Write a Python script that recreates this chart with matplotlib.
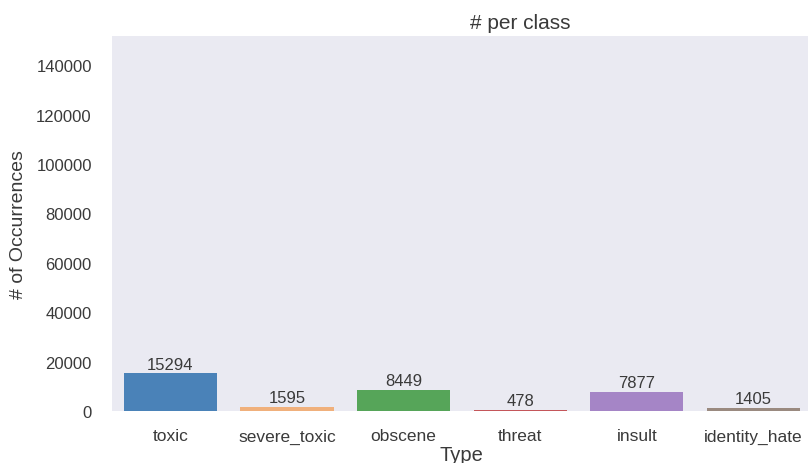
import matplotlib
matplotlib.use("Agg")
import matplotlib.pyplot as plt
import seaborn as sns

classes = ["toxic", "severe_toxic", "obscene", "threat", "insult", "identity_hate"]
counts = [15294, 1595, 8449, 478, 7877, 1405]
yticks = [0, 20000, 40000, 60000, 80000, 100000, 120000, 140000]
bar_colors = ["#4a82b8", "#f0b07c", "#56a559", "#c4565a", "#a585c6", "#9a8a80"]

sns.set_style("dark")
plt.rcParams["font.family"] = ["Liberation Sans", "DejaVu Sans"]

fig = plt.figure(figsize=(8.08, 4.64), dpi=100)
# right edge of the axes is slightly cropped in the original
ax = fig.add_axes([0.1386, 0.112, 0.866, 0.808])

x = range(len(classes))
ax.bar(x, counts, width=0.8, color=bar_colors, linewidth=0)

for i, v in enumerate(counts):
    ax.text(i, v + 700, str(v), ha="center", va="bottom", fontsize=12, color="#3a3a3a")

ax.set_xlim(-0.5, 5.5)
ax.set_ylim(0, 151800)
ax.set_yticks(yticks)
ax.set_xticks(list(x))
ax.set_xticklabels(classes)
ax.tick_params(axis="y", labelsize=12, colors="#3a3a3a", pad=11)
ax.tick_params(axis="x", labelsize=12.5, colors="#3a3a3a", pad=9)

ax.set_title("# per class", fontsize=15, color="#3a3a3a", pad=6, x=0.583)
ax.set_xlabel("Type", fontsize=14.5, color="#3a3a3a", labelpad=1)
ax.set_ylabel("# of Occurrences", fontsize=14, color="#3a3a3a")
ax.yaxis.set_label_coords(-0.122, 0.5)

for s in ax.spines.values():
    s.set_visible(False)

fig.savefig("out.png", dpi=100)
